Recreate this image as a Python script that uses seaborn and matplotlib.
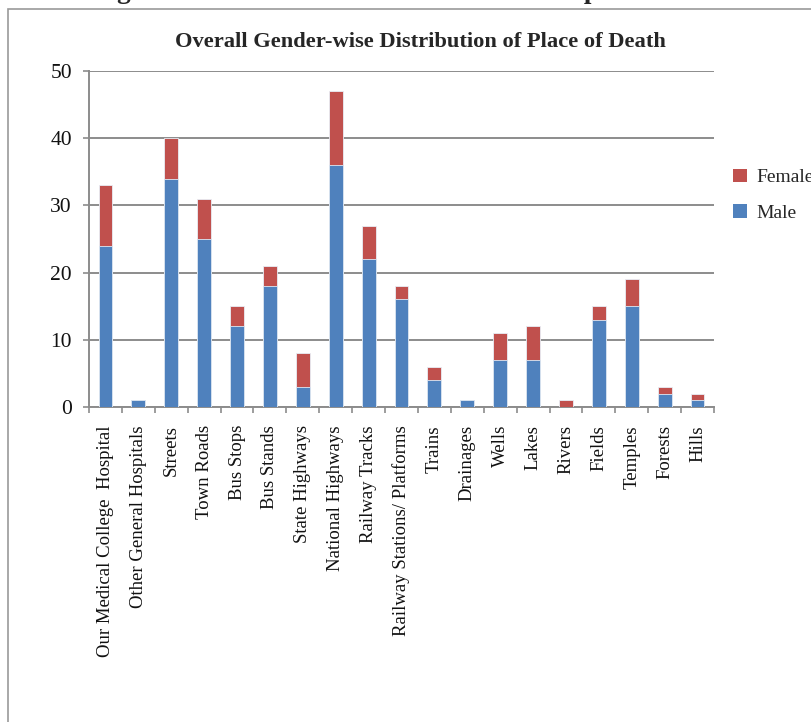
import numpy as np
import pandas as pd
import matplotlib
matplotlib.use("Agg")
import matplotlib.pyplot as plt
from matplotlib.patches import Rectangle, Patch
import seaborn as sns

places = [
    "Our Medical College  Hospital", "Other General Hospitals", "Streets",
    "Town Roads", "Bus Stops", "Bus Stands", "State Highways",
    "National Highways", "Railway Tracks", "Railway Stations/ Platforms",
    "Trains", "Drainages", "Wells", "Lakes", "Rivers", "Fields",
    "Temples", "Forests", "Hills",
]
male = [24, 1, 34, 25, 12, 18, 3, 36, 22, 16, 4, 1, 7, 7, 0, 13, 15, 2, 1]
female = [9, 0, 6, 6, 3, 3, 5, 11, 5, 2, 2, 0, 4, 5, 1, 2, 4, 1, 1]
y_ticks = [0, 10, 20, 30, 40, 50]

BLUE = "#4F81BD"
RED = "#C0504D"
GRID = "#8c8c8c"

sns.set_theme(style="white")
plt.rcParams["font.family"] = ["Liberation Serif", "DejaVu Serif"]

df = pd.DataFrame({"place": places, "Male": male, "Female": female})
df["Total"] = df["Male"] + df["Female"]

fig = plt.figure(figsize=(8.12, 7.22), dpi=100)
ax = fig.add_axes([89 / 812, 1 - 407 / 722, (714 - 89) / 812, (407 - 71) / 722])

# stacked bars: the full height in red, the male part drawn over it in blue
sns.barplot(data=df, x="place", y="Total", color=RED, width=0.42,
            saturation=1, edgecolor="#e8eef6", linewidth=0.6, ax=ax, zorder=3)
sns.barplot(data=df, x="place", y="Male", color=BLUE, width=0.42,
            saturation=1, edgecolor="#dfe8f3", linewidth=0.6, ax=ax, zorder=4)

ax.set_xlim(-0.5, len(places) - 0.5)
ax.set_ylim(0, 50)
ax.set_yticks(y_ticks)
ax.set_yticklabels([str(v) for v in y_ticks], fontsize=15.5, color="#111111")
ax.yaxis.grid(True, color=GRID, linewidth=1.4, zorder=0)
ax.set_axisbelow(True)

ax.set_xticks(range(len(places)))
ax.set_xticklabels(places, rotation=90, fontsize=13.5, color="#111111")
ax.set_xticks(np.arange(-0.5, len(places), 1.0), minor=True)
ax.tick_params(axis="x", which="major", length=0, pad=13)
ax.tick_params(axis="x", which="minor", direction="out", length=4.3,
               width=1.2, color=GRID, bottom=True)
ax.tick_params(axis="y", which="major", direction="out", length=4.3,
               width=1.2, color=GRID, left=True, pad=8)
ax.set_xlabel("")
ax.set_ylabel("")

for side in ["top", "right"]:
    ax.spines[side].set_visible(False)
for side in ["left", "bottom"]:
    ax.spines[side].set_color(GRID)
    ax.spines[side].set_linewidth(1.4)

ax.set_title("Overall Gender-wise Distribution of Place of Death",
             fontsize=16.2, fontweight="bold", pad=17, x=0.531)

handles = [Patch(facecolor=RED, edgecolor="none", label="Female"),
           Patch(facecolor=BLUE, edgecolor="none", label="Male")]
fig.legend(handles=handles, loc="upper left", bbox_to_anchor=(0.893, 0.777),
           frameon=False, fontsize=14, handlelength=0.7, handleheight=0.7,
           handletextpad=0.5, labelspacing=0.9, borderaxespad=0)

# chart frame
fig.patches.append(Rectangle((8 / 812, -0.05), 1.2, 1.05 - 9 / 722,
                             transform=fig.transFigure, fill=False,
                             edgecolor="#9a9a9a", linewidth=1.2))

# figure caption above the frame
fig.text(0.516, 1.0 + 2 / 722, "Fig. 1 Overall Gender-wise distribution of place of death",
         ha="center", va="baseline", fontsize=19.5, fontweight="bold")

fig.savefig("out.png", dpi=100)
